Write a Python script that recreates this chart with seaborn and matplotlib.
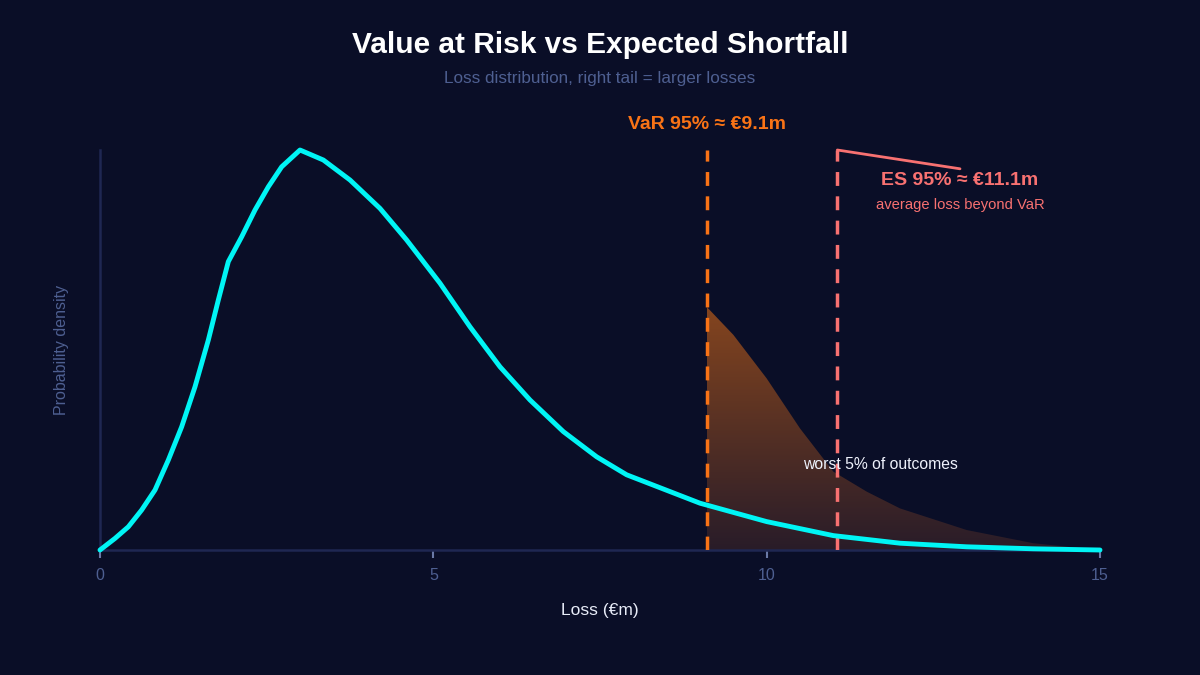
"""Value at Risk vs Expected Shortfall: loss density with shaded tail."""
import matplotlib
matplotlib.use("Agg")
import matplotlib.pyplot as plt
import numpy as np
import pandas as pd
import seaborn as sns
from matplotlib.colors import LinearSegmentedColormap

# loss distribution (normalised density, peak = 1)
loss = [0, 0.225, 0.425, 0.625, 0.825, 1.025, 1.225, 1.425, 1.625, 1.775,
        1.925, 2.125, 2.325, 2.525, 2.725, 3.0, 3.35, 3.75, 4.2, 4.6, 5.1,
        5.55, 6.0, 6.45, 6.95, 7.45, 7.9, 9.0, 10.0, 11.0, 12.0, 13.0, 14.0,
        15.0]
density = [0.0, 0.029, 0.058, 0.1, 0.15, 0.225, 0.308, 0.408, 0.525, 0.625,
           0.721, 0.783, 0.85, 0.908, 0.958, 1.0, 0.975, 0.925, 0.854, 0.775,
           0.667, 0.558, 0.458, 0.375, 0.296, 0.233, 0.188, 0.117, 0.071,
           0.036, 0.017, 0.008, 0.003, 0.0]

# shaded tail beyond VaR
tail_loss = [9.1, 9.5, 10.0, 10.5, 11.0, 11.5, 12.0, 13.0, 14.0, 15.0]
tail_height = [0.608, 0.538, 0.429, 0.304, 0.196, 0.146, 0.104, 0.05, 0.017, 0.0]

var_95 = 9.1
es_95 = 11.06

BG = "#0a0e27"
AXIS = "#1f2752"
MUTED = "#4e5f91"
CYAN = "#00f5f5"
ORANGE = "#f97316"
RED = "#f87171"


def main() -> None:
    sns.set_theme(style="dark")
    plt.rcParams["font.family"] = ["Liberation Sans", "DejaVu Sans"]

    fig = plt.figure(figsize=(12, 6.75), dpi=100, facecolor=BG)
    ax = fig.add_axes([100 / 1200, 125 / 675, 1000 / 1200, 400 / 675])
    ax.set_facecolor(BG)

    # gradient-filled tail, clipped to its polygon
    poly = ax.fill_between(tail_loss, 0, tail_height, color="none", lw=0)
    cmap = LinearSegmentedColormap.from_list(
        "tail", [(0.16, 0.11, 0.16), (0.52, 0.27, 0.12)])
    grad = np.linspace(0, 1, 256).reshape(-1, 1)
    img = ax.imshow(grad, cmap=cmap, origin="lower", aspect="auto",
                    extent=[tail_loss[0], tail_loss[-1], 0, max(tail_height)],
                    zorder=1)
    img.set_clip_path(poly.get_paths()[0], transform=ax.transData)

    df = pd.DataFrame({"loss": loss, "density": density})
    sns.lineplot(data=df, x="loss", y="density", color=CYAN, lw=3.5,
                 ax=ax, zorder=4, clip_on=False)
    ax.lines[-1].set_solid_joinstyle("round")
    ax.lines[-1].set_solid_capstyle("round")

    ax.axvline(var_95, color=ORANGE, lw=2.5, ls=(0, (4, 3)), zorder=3)
    ax.axvline(es_95, color=RED, lw=2.5, ls=(0, (4, 3)), zorder=3)

    ax.set_xlim(0, 15)
    ax.set_ylim(0, 1)
    ax.set_xticks([0, 5, 10, 15])
    ax.set_yticks([])
    ax.tick_params(axis="x", colors="#6a79a6", labelcolor=MUTED,
                   labelsize=11.5, length=6, width=1.5, direction="out",
                   pad=7, bottom=True)
    for side in ("top", "right"):
        ax.spines[side].set_visible(False)
    for side in ("left", "bottom"):
        ax.spines[side].set_color(AXIS)
        ax.spines[side].set_linewidth(1.8)
    ax.grid(False)

    ax.set_xlabel("Loss (€m)", color="#e8ecf8", fontsize=12.5, labelpad=14)
    ax.set_ylabel("Probability density", color=MUTED, fontsize=11.5,
                  labelpad=22)

    # annotations
    ax.text(var_95, 1.065, "VaR 95% ≈ €9.1m", color=ORANGE, fontsize=14,
            fontweight="bold", ha="center", va="center")
    ax.plot([es_95, 12.9], [1.0, 0.953], color=RED, lw=2, clip_on=False)
    ax.text(12.9, 0.925, "ES 95% ≈ €11.1m", color=RED, fontsize=14,
            fontweight="bold", ha="center", va="center")
    ax.text(12.9, 0.863, "average loss beyond VaR", color=RED, fontsize=10.6,
            ha="center", va="center")
    ax.text(11.7, 0.213, "worst 5% of outcomes", color="#eef1fb",
            fontsize=11.3, ha="center", va="center", zorder=5)

    fig.text(0.5, 1 - 45 / 675, "Value at Risk vs Expected Shortfall",
             color="white", fontsize=21.5, fontweight="bold",
             ha="center", va="center")
    fig.text(0.5, 1 - 79 / 675, "Loss distribution, right tail = larger losses",
             color=MUTED, fontsize=12.3, ha="center", va="center")

    fig.savefig("out.png", dpi=100, facecolor=BG)
    plt.close(fig)


if __name__ == "__main__":
    main()
